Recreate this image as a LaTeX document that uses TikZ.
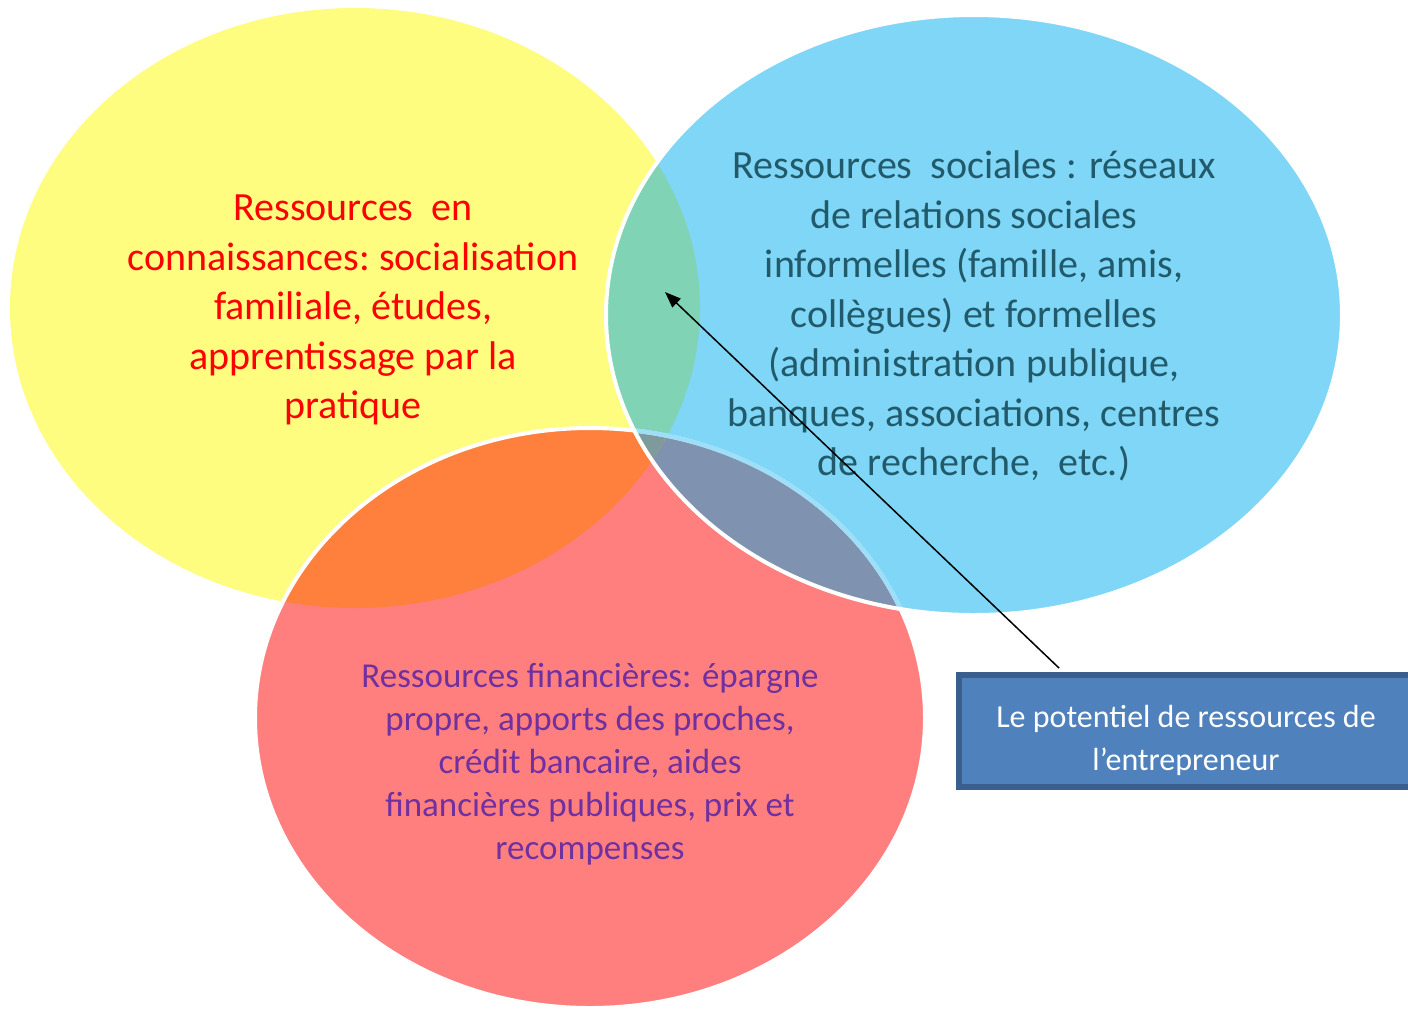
\documentclass[tikz,border=0pt]{standalone}
\usepackage{fontspec}
\setmainfont{Carlito}
\usepackage{xcolor}
\usetikzlibrary{arrows.meta}

\definecolor{jaune}{HTML}{FFFD80}
\definecolor{bleu}{HTML}{7FD6F6}
\definecolor{rose}{HTML}{FF7F7F}
\definecolor{vert}{HTML}{80D4B5}
\definecolor{orangeJR}{HTML}{FF803C}
\definecolor{mauve}{HTML}{7F93B1}
\definecolor{gristrio}{HTML}{7F9A9C}
\definecolor{bleuclair}{HTML}{9EDFF7}
\definecolor{txtrouge}{HTML}{FF0000}
\definecolor{txtbleu}{HTML}{215A6A}
\definecolor{txtviolet}{HTML}{7030A0}
\definecolor{cadrefond}{HTML}{4F81BD}
\definecolor{cadrebord}{HTML}{3A5F8E}

% the three circles, in pixel units
\def\cercleJ{(355,308) ellipse [x radius=345, y radius=300]}
\def\cercleB{(974,315) ellipse [x radius=368, y radius=300]}
\def\cercleR{(590,718) ellipse [x radius=335, y radius=290]}

\begin{document}
\begin{tikzpicture}[x=0.5pt, y=-0.5pt,
  bulle/.style={align=center, inner sep=0pt},
  contour/.style={draw=white, line width=2pt},
  cadre/.style={draw=cadrebord, fill=cadrefond, line width=3pt,
                minimum width=227pt, minimum height=56pt, align=center,
                text=white, font=\fontsize{16}{21.5}\selectfont},
  >={Triangle[length=8pt,width=6pt]},
]
  \useasboundingbox (0,0) rectangle (1408,1009);
  \fill[white] (0,0) rectangle (1408,1009);

  % circles
  \fill[jaune] \cercleJ;
  \fill[rose] \cercleR;
  \fill[bleu] \cercleB;

  % overlaps
  \begin{scope}
    \clip \cercleR;
    \fill[mauve] \cercleB;
  \end{scope}
  \begin{scope}
    \clip \cercleJ;
    \fill[vert] \cercleB;
    \fill[orangeJR] \cercleR;
    \clip \cercleR;
    \fill[gristrio] \cercleB;
  \end{scope}

  % outlines
  \draw[contour] \cercleR;
  \begin{scope}
    \clip \cercleB;
    \draw[bleuclair, line width=2.2pt] \cercleR;
  \end{scope}
  \draw[contour] \cercleB;

  % texts
  \node[bulle, text=txtrouge, font=\fontsize{20}{24.75}\selectfont] (connaissances) at (353,310)
    {Ressources\ \ en\\connaissances:\ socialisation\\familiale, études,\\apprentissage par la\\pratique};
  \node[bulle, text=txtbleu, font=\fontsize{20}{24.75}\selectfont] (sociales) at (974,316)
    {Ressources\ \ sociales : réseaux\\de relations sociales\\informelles (famille, amis,\\collègues) et formelles\\(administration publique,\\banques,\ associations, centres\\de recherche,\ \ etc.)};
  \node[bulle, text=txtviolet, font=\fontsize{17.5}{21.5}\selectfont] (financieres) at (590,764)
    {Ressources financières: épargne\\propre, apports des proches,\\crédit bancaire, aides\\financières publiques, prix et\\recompenses};

  \node[cadre] (potentiel) at (1186,731)
    {\rule{0pt}{21pt}Le potentiel de ressources de\\l’entrepreneur};

  \coordinate (lentille) at (665,292);
  \draw[->, line width=0.75pt] ([xshift=51.5pt,yshift=2pt]potentiel.north west) -- (lentille);
\end{tikzpicture}
\end{document}
